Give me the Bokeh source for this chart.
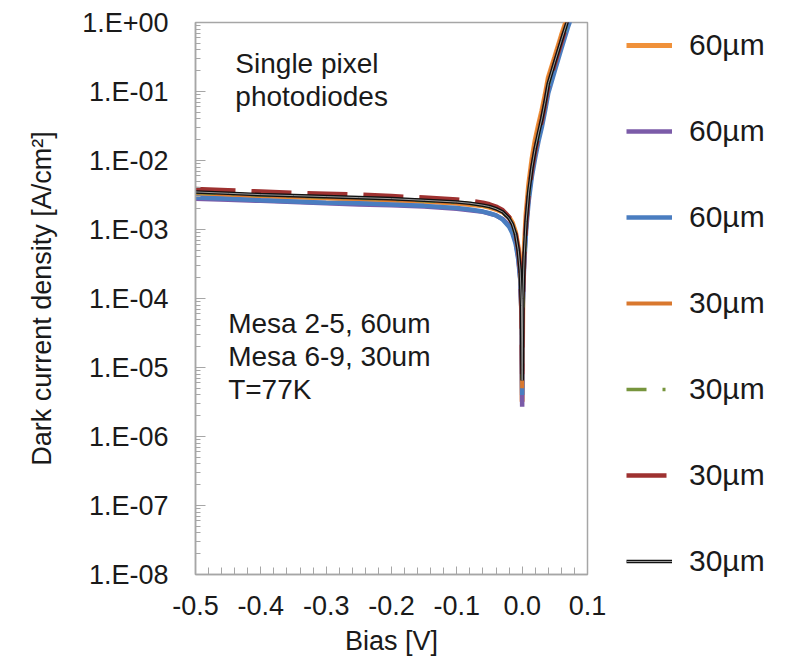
from bokeh.plotting import figure
from bokeh.models import (Legend, LegendItem, Label, FixedTicker, CustomJSTickFormatter,
                          NumeralTickFormatter, Range1d)
from bokeh.embed import file_html
from bokeh.resources import INLINE

# ---------------- data ----------------
BIAS = [-0.50, -0.45, -0.40, -0.35, -0.30, -0.25, -0.20, -0.15, -0.10, -0.08, -0.06, -0.05,
        -0.04, -0.03, -0.02, -0.015, -0.010, -0.006, -0.003, -0.001, 0.000, 0.001, 0.003,
        0.006, 0.010, 0.015, 0.020, 0.025, 0.030, 0.035, 0.040, 0.050, 0.060, 0.070, 0.080]

J_ORANGE_60 = [3.3e-3, 3.2e-3, 3.05e-3, 2.95e-3, 2.85e-3, 2.75e-3, 2.65e-3, 2.55e-3, 2.4e-3, 2.3e-3,
               2.2e-3, 2.1e-3, 1.95e-3, 1.8e-3, 1.5e-3, 1.25e-3, 9e-4, 5.5e-4, 2.6e-4, 7e-5, 3.2e-6,
               1.2e-4, 5e-4, 1.7e-3, 4.5e-3, 1.05e-2, 2e-2, 3.3e-2, 5.2e-2, 8.8e-2, 1.6e-1, 3.2e-1,
               6.5e-1, 1.25, 2.4]
J_PURPLE_60 = [2.8e-3, 2.7e-3, 2.6e-3, 2.5e-3, 2.4e-3, 2.3e-3, 2.25e-3, 2.15e-3, 2.0e-3, 1.9e-3,
               1.8e-3, 1.7e-3, 1.6e-3, 1.42e-3, 1.15e-3, 9.5e-4, 6.8e-4, 4e-4, 2e-4, 6e-5, 2.7e-6,
               9e-5, 3.6e-4, 1.15e-3, 3.1e-3, 7.2e-3, 1.35e-2, 2.2e-2, 3.6e-2, 6.3e-2, 1.15e-1,
               2.4e-1, 5e-1, 1.0, 1.8]
J_BLUE_60 = [2.9e-3, 2.8e-3, 2.65e-3, 2.55e-3, 2.45e-3, 2.4e-3, 2.3e-3, 2.2e-3, 2.05e-3, 1.95e-3,
             1.82e-3, 1.72e-3, 1.6e-3, 1.4e-3, 1.1e-3, 8.8e-4, 6.2e-4, 3.7e-4, 1.9e-4, 6e-5, 4e-6,
             8e-5, 3e-4, 9.5e-4, 2.6e-3, 6e-3, 1.1e-2, 1.9e-2, 3e-2, 5.2e-2, 9.5e-2, 2e-1, 4.2e-1,
             8.5e-1, 1.6]
J_ORANGE_30 = [3.4e-3, 3.25e-3, 3.1e-3, 3.0e-3, 2.9e-3, 2.8e-3, 2.7e-3, 2.6e-3, 2.45e-3, 2.35e-3,
               2.22e-3, 2.12e-3, 1.98e-3, 1.8e-3, 1.48e-3, 1.22e-3, 8.8e-4, 5.2e-4, 2.6e-4, 8e-5,
               5e-6, 1.15e-4, 4.6e-4, 1.55e-3, 4.2e-3, 9.6e-3, 1.8e-2, 3e-2, 4.8e-2, 8.4e-2,
               1.5e-1, 3.1e-1, 6.2e-1, 1.2, 2.2]
J_GREEN_30 = [3.45e-3, 3.3e-3, 3.15e-3, 3.05e-3, 2.95e-3, 2.85e-3, 2.75e-3, 2.62e-3, 2.48e-3,
              2.38e-3, 2.24e-3, 2.14e-3, 1.98e-3, 1.78e-3, 1.44e-3, 1.18e-3, 8.4e-4, 4.9e-4,
              2.4e-4, 7.5e-5, 6e-6, 1e-4, 3.9e-4, 1.25e-3, 3.4e-3, 7.8e-3, 1.45e-2, 2.4e-2,
              3.9e-2, 6.8e-2, 1.25e-1, 2.6e-1, 5.3e-1, 1.05, 1.9]
J_RED_30 = [3.85e-3, 3.7e-3, 3.55e-3, 3.4e-3, 3.3e-3, 3.2e-3, 3.05e-3, 2.9e-3, 2.72e-3, 2.6e-3,
            2.45e-3, 2.32e-3, 2.15e-3, 1.92e-3, 1.52e-3, 1.25e-3, 8.8e-4, 5.1e-4, 2.5e-4, 8e-5,
            8e-6, 9.5e-5, 3.8e-4, 1.2e-3, 3.3e-3, 7.5e-3, 1.4e-2, 2.35e-2, 3.8e-2, 6.6e-2,
            1.22e-1, 2.55e-1, 5.2e-1, 1.05, 1.9]
J_BLACK_30 = [3.5e-3, 3.35e-3, 3.2e-3, 3.1e-3, 3.0e-3, 2.9e-3, 2.8e-3, 2.65e-3, 2.5e-3, 2.4e-3,
              2.25e-3, 2.15e-3, 2.0e-3, 1.8e-3, 1.45e-3, 1.2e-3, 8.5e-4, 5e-4, 2.5e-4, 8e-5, 6.5e-6,
              1e-4, 4e-4, 1.3e-3, 3.5e-3, 8e-3, 1.5e-2, 2.5e-2, 4e-2, 7e-2, 1.3e-1, 2.7e-1, 5.5e-1,
              1.1, 2.0]

LABELS = ["60µm", "60µm", "60µm", "30µm", "30µm", "30µm", "30µm"]
X_TICKS = [-0.5, -0.4, -0.3, -0.2, -0.1, 0.0, 0.1]
Y_TICKS = [1e-8, 1e-7, 1e-6, 1e-5, 1e-4, 1e-3, 1e-2, 1e-1, 1e0]

FONT = "Liberation Sans"

p = figure(frame_width=392, frame_height=552, y_axis_type="log", output_backend="svg",
           toolbar_location=None, x_range=Range1d(-0.5, 0.1), y_range=Range1d(1e-8, 1.0),
           min_border_left=195, min_border_right=213, min_border_top=22, min_border_bottom=92)
p.background_fill_color = "white"
p.border_fill_color = "white"
p.outline_line_color = "#a6a6a6"
p.outline_line_width = 1.5
p.xgrid.visible = False
p.ygrid.visible = False

# axes
x_minor = [round(-0.5 + 0.02 * i, 2) for i in range(31)]
p.xaxis.ticker = FixedTicker(ticks=X_TICKS, minor_ticks=x_minor)
p.xaxis.formatter = NumeralTickFormatter(format="0.0")
y_minor = [m * t for t in Y_TICKS[:-1] for m in range(2, 10)]
p.yaxis.ticker = FixedTicker(ticks=Y_TICKS, minor_ticks=y_minor)
p.yaxis.formatter = CustomJSTickFormatter(code="""
const e = Math.round(Math.log10(tick));
const s = e < 0 ? "-" : "+";
const a = Math.abs(e);
return "1.E" + s + (a < 10 ? "0" : "") + a;
""")
for ax in (p.xaxis[0], p.yaxis[0]):
    ax.axis_line_color = "#a6a6a6"
    ax.axis_line_width = 1.5
    ax.major_tick_line_color = "#a6a6a6"
    ax.minor_tick_line_color = "#a6a6a6"
    ax.major_tick_out = 0
    ax.minor_tick_out = 0
    ax.major_label_text_font = FONT
    ax.major_label_text_color = "#1a1a1a"
    ax.axis_label_text_font = FONT
    ax.axis_label_text_font_style = "normal"
    ax.axis_label_text_color = "#1a1a1a"

p.xaxis.major_tick_in = 8
p.xaxis.minor_tick_in = 7
p.xaxis.major_label_text_font_size = "27px"
p.xaxis.major_label_standoff = 21
p.xaxis.axis_label = "Bias [V]"
p.xaxis.axis_label_text_font_size = "27px"
p.xaxis.axis_label_standoff = 8

p.yaxis.major_tick_in = 10
p.yaxis.minor_tick_in = 5
p.yaxis.major_label_text_font_size = "27px"
p.yaxis.major_label_standoff = 27
p.yaxis.axis_label = "Dark current density [A/cm²]"
p.yaxis.axis_label_text_font_size = "27px"
p.yaxis.axis_label_standoff = 22

# series
series = [
    (J_ORANGE_60, "#F0913A", 5, "solid"),
    (J_PURPLE_60, "#7B5BA8", 4.5, "solid"),
    (J_BLUE_60, "#4A7DC0", 4.5, "solid"),
    (J_ORANGE_30, "#D9782E", 4, "solid"),
    (J_GREEN_30, "#77953D", 3.5, "20 16 3 16"),
    (J_RED_30, "#9E3130", 4.5, "40 16"),
]
renderers = []
for ys, color, w, dash in series:
    r = p.line(BIAS, ys, line_color=color, line_width=w, line_dash=dash)
    renderers.append([r])

# black series drawn as a double (compound) line
r_b1 = p.line(BIAS, J_BLACK_30, line_color="#111111", line_width=3.6)
r_b2 = p.line(BIAS, J_BLACK_30, line_color="#9a9a9a", line_width=1.0)
renderers.append([r_b1, r_b2])

items = [LegendItem(label=lab, renderers=rs) for lab, rs in zip(LABELS, renderers)]
legend = Legend(items=items, location=(39, -4), orientation="vertical",
                label_text_font=FONT, label_text_font_size="30px", label_text_color="#1a1a1a",
                glyph_width=46, glyph_height=34, label_height=34, spacing=52,
                label_standoff=17, padding=0, margin=0,
                background_fill_alpha=0, border_line_alpha=0)
p.add_layout(legend, "right")

# annotations
notes = [
    (-0.439, 0.2546, "Single pixel"),
    (-0.439, 0.0847, "photodiodes"),
    (-0.45, 4.34e-5, "Mesa 2-5, 60um"),
    (-0.45, 1.44e-5, "Mesa 6-9, 30um"),
    (-0.45, 4.8e-6, "T=77K"),
]
for x, y, t in notes:
    p.add_layout(Label(x=x, y=y, text=t, text_font=FONT, text_font_size="28px",
                       text_color="#1a1a1a", text_baseline="alphabetic", text_align="left"))

open("out.html", "w").write(file_html(p, INLINE))
